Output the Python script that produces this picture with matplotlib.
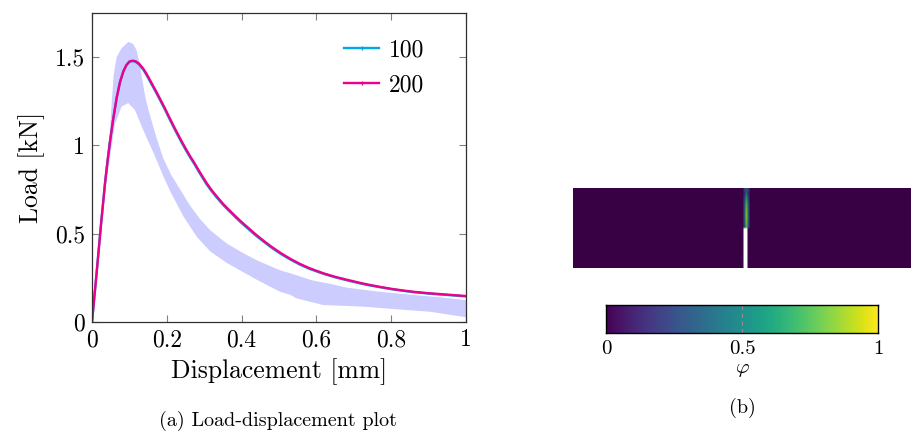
import numpy as np
import matplotlib
matplotlib.use("Agg")
import matplotlib.pyplot as plt
from matplotlib.colors import ListedColormap
from matplotlib.lines import Line2D

plt.rcParams['font.family'] = 'serif'
plt.rcParams['font.serif'] = ['cmr10']
plt.rcParams['mathtext.fontset'] = 'cm'
plt.rcParams['axes.unicode_minus'] = False

# -----------------------
# Dados: curvas carga-deslocamento
# -----------------------
disp = [0, 0.012, 0.024, 0.035, 0.042, 0.048, 0.056, 0.066, 0.075, 0.084,
        0.092, 0.1, 0.108, 0.116, 0.125, 0.137, 0.146, 0.155, 0.164, 0.173,
        0.184, 0.195, 0.206, 0.217, 0.228, 0.24, 0.251, 0.262, 0.274, 0.285,
        0.296, 0.307, 0.318, 0.33, 0.34, 0.351, 0.363, 0.375, 0.385, 0.396,
        0.408, 0.42, 0.43, 0.44, 0.46, 0.48, 0.505, 0.53, 0.555, 0.58,
        0.60, 0.62, 0.65, 0.68, 0.70, 0.72, 0.745, 0.77, 0.80, 0.83,
        0.86, 0.90, 0.95, 1.0]
load_200 = [0, 0.27, 0.55, 0.79, 0.92, 1.02, 1.14, 1.27, 1.36, 1.42,
            1.455, 1.475, 1.48, 1.477, 1.465, 1.435, 1.405, 1.37, 1.335, 1.30,
            1.255, 1.21, 1.162, 1.115, 1.07, 1.022, 0.98, 0.94, 0.90, 0.86,
            0.822, 0.785, 0.752, 0.72, 0.695, 0.668, 0.642, 0.617, 0.596, 0.574,
            0.551, 0.529, 0.51, 0.492, 0.458, 0.426, 0.39, 0.358, 0.33, 0.306,
            0.29, 0.275, 0.256, 0.24, 0.23, 0.22, 0.209, 0.199, 0.188, 0.179,
            0.171, 0.163, 0.155, 0.147]
load_100 = [0, 0.27, 0.55, 0.79, 0.92, 1.02, 1.14, 1.27, 1.36, 1.42,
            1.455, 1.474, 1.478, 1.474, 1.46, 1.429, 1.398, 1.363, 1.328, 1.293,
            1.248, 1.203, 1.155, 1.108, 1.063, 1.015, 0.973, 0.933, 0.893, 0.853,
            0.815, 0.778, 0.746, 0.714, 0.689, 0.662, 0.636, 0.611, 0.590, 0.568,
            0.545, 0.523, 0.504, 0.486, 0.453, 0.421, 0.385, 0.354, 0.326, 0.302,
            0.287, 0.272, 0.253, 0.237, 0.227, 0.217, 0.206, 0.197, 0.186, 0.177,
            0.169, 0.161, 0.153, 0.145]

# faixa experimental (limites superior e inferior)
band_up_x = [0, 0.012, 0.024, 0.035, 0.048, 0.053, 0.058, 0.066, 0.079, 0.097,
             0.11, 0.119, 0.128, 0.133, 0.142, 0.151, 0.17, 0.19, 0.21, 0.23,
             0.262, 0.29, 0.316, 0.36, 0.40, 0.44, 0.50, 0.53, 0.59, 0.64,
             0.68, 0.77, 0.86, 0.93, 1.0]
band_up_y = [0, 0.28, 0.57, 0.82, 1.08, 1.25, 1.40, 1.50, 1.55, 1.586,
             1.575, 1.54, 1.46, 1.39, 1.28, 1.20, 1.06, 0.93, 0.84, 0.77,
             0.66, 0.58, 0.52, 0.445, 0.395, 0.35, 0.295, 0.276, 0.235, 0.215,
             0.195, 0.171, 0.153, 0.14, 0.124]
band_lo_x = [0, 0.012, 0.024, 0.035, 0.048, 0.0615, 0.079, 0.097, 0.115, 0.137,
             0.164, 0.19, 0.209, 0.244, 0.28, 0.316, 0.36, 0.44, 0.503, 0.529,
             0.547, 0.618, 0.725, 0.815, 0.904, 1.0]
band_lo_y = [0, 0.26, 0.52, 0.74, 0.93, 1.12, 1.22, 1.24, 1.20, 1.087,
             0.96, 0.83, 0.74, 0.60, 0.483, 0.40, 0.335, 0.24, 0.171, 0.155,
             0.134, 0.096, 0.087, 0.072, 0.058, 0.027]

x_ticks = [0, 0.2, 0.4, 0.6, 0.8, 1]
x_tick_labels = ['0', '0.2', '0.4', '0.6', '0.8', '1']
y_ticks = [0, 0.5, 1, 1.5]
y_tick_labels = ['0', '0.5', '1', '1.5']

# -----------------------
# Dados: campo de fase (coluna da trinca, linhas de cima para baixo)
# -----------------------
n_rows, n_cols = 40, 172
crack_col = 86
crack_center = [0.3, 0.35, 0.4, 0.5, 0.6, 0.65, 0.7, 0.74, 0.77, 0.8,
                0.82, 0.84, 0.85, 0.86, 0.86, 0.85, 0.84, 0.82, 0.8, 0.75]
crack_side = [0.22, 0.18, 0.14, 0.16, 0.2, 0.24, 0.27, 0.3, 0.32, 0.33,
              0.34, 0.35, 0.35, 0.35, 0.35, 0.35, 0.34, 0.33, 0.32, 0.3]
notch_rows = (20, 40)
cbar_ticks = [0, 0.5, 1]
cbar_tick_labels = ['0', '0.5', '1']

cyan = '#00A9E6'
magenta = '#EC008C'
band_color = '#CCCCFF'

fig = plt.figure(figsize=(9.12, 4.34), dpi=100)

# -----------------------
# (a) Carga-deslocamento
# -----------------------
ax = fig.add_axes([92 / 912, 1 - 322 / 434, 374 / 912, 309 / 434])
ax.fill(np.r_[band_up_x, band_lo_x[::-1]], np.r_[band_up_y, band_lo_y[::-1]],
        color=band_color, lw=0)
ax.plot(disp, load_100, color=cyan, lw=1.7, solid_joinstyle='round')
ax.plot(disp, load_200, color=magenta, lw=1.7, solid_joinstyle='round')
ax.set_xlim(0, 1)
ax.set_ylim(0, 1.75)
ax.set_xticks(x_ticks)
ax.set_xticklabels(x_tick_labels)
ax.set_yticks(y_ticks)
ax.set_yticklabels(y_tick_labels)
ax.tick_params(direction='in', top=True, right=True, length=5, width=0.8,
               color='#808080', labelsize=17, pad=5)
for s in ax.spines.values():
    s.set_color('#303030')
    s.set_linewidth(0.9)
ax.set_xlabel('Displacement [mm]', fontsize=18.5, labelpad=5)
ax.set_ylabel('Load [kN]', fontsize=18.5, labelpad=7)

handles = [Line2D([], [], color=cyan, lw=1.7, marker='|', markersize=3),
           Line2D([], [], color=magenta, lw=1.7, marker='|', markersize=3)]
ax.legend(handles, ['100', '200'], loc='upper right', frameon=False,
          fontsize=17, handlelength=1.5, handletextpad=0.4, labelspacing=0.55,
          bbox_to_anchor=(0.945, 0.985))

fig.text(278 / 912, 1 - 421 / 434, '(a) Load-displacement plot', fontsize=14.5,
         ha='center', va='center')

# -----------------------
# (b) Campo de fase
# -----------------------
field = np.zeros((n_rows, n_cols))
for i, v in enumerate(crack_center):
    field[i, crack_col] = v
    field[i, crack_col - 1] = crack_side[i]
    field[i, crack_col + 1] = crack_side[i]
field[notch_rows[0]:notch_rows[1], crack_col - 1:crack_col + 1] = np.nan

base = plt.get_cmap('viridis')(np.linspace(0, 1, 256))
dark = base.copy()
dark[:, :3] *= 0.82
img_cmap = ListedColormap(dark)
img_cmap.set_bad('white')

axi = fig.add_axes([573 / 912, 1 - 268 / 434, 345 / 912, 80 / 434])
axi.imshow(field, cmap=img_cmap, vmin=0, vmax=1, aspect='auto',
           interpolation='bilinear')
axi.axis('off')

axc = fig.add_axes([606 / 912, 1 - 333 / 434, 272 / 912, 28 / 434])
grad = np.linspace(0, 1, 256)[None, :]
axc.imshow(grad, cmap='viridis', aspect='auto', extent=[0, 1, 0, 1])
axc.axvline(0.5, color='#909090', lw=0.8, ls=(0, (4, 3)))
axc.set_xticks(cbar_ticks)
axc.set_xticklabels(cbar_tick_labels)
axc.set_yticks([])
axc.tick_params(axis='x', length=0, labelsize=15, pad=5)
for s in axc.spines.values():
    s.set_color('black')
    s.set_linewidth(1.0)
axc.set_xlabel(r'$\varphi$', fontsize=15, labelpad=2)

fig.text(742 / 912, 1 - 408 / 434, '(b)', fontsize=14.5, ha='center', va='center')

fig.savefig('out.png', dpi=100)
